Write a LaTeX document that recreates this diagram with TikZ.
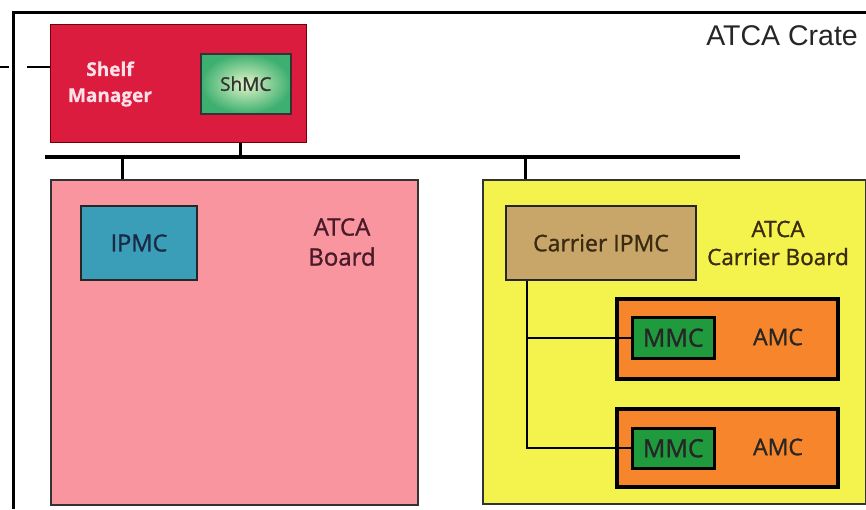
\documentclass[tikz,border=0pt]{standalone}
\usepackage{fontspec}
\setmainfont[FakeBold=1.2]{Open Sans}
\newfontfamily\smfont[FakeBold=0.6]{Open Sans Bold}
\newfontfamily\cratefont{Liberation Sans}
\definecolor{smred}{HTML}{DC1C3E}
\definecolor{smtext}{HTML}{FCE2E8}
\definecolor{shin}{HTML}{E2F5C8}
\definecolor{shout}{HTML}{3DAF70}
\definecolor{boardpink}{HTML}{F8959F}
\definecolor{boardtext}{HTML}{4A1A28}
\definecolor{ipmcteal}{HTML}{3B9EB8}
\definecolor{ipmctext}{HTML}{1B2A44}
\definecolor{caryellow}{HTML}{F4F24C}
\definecolor{cipmctan}{HTML}{C8A66A}
\definecolor{cartext}{HTML}{3A2A10}
\definecolor{amcorange}{HTML}{F7852B}
\definecolor{mmcgreen}{HTML}{1F9B3E}
\begin{document}
\begin{tikzpicture}[x=1pt,y=-1pt,
  box/.style={draw, rectangle, anchor=north west, inner sep=0pt},
  busline/.style={line width=4pt, black},
  stubline/.style={line width=3pt, black},
  wire/.style={line width=1.8pt, black}]
\useasboundingbox (0,0) rectangle (866,509);
\fill[white] (0,0) rectangle (866,509);
% crate
\draw[line width=3pt] (13,509) -- (13,12) -- (866,12);
\node[font=\cratefont\fontsize{28.5}{30}\selectfont, anchor=east, text=black!85, inner sep=0pt] (crate) at (858,36) {ATCA Crate};
% shelf manager
\node[box, draw=red!45!black, fill=smred, line width=1pt, minimum width=256pt, minimum height=118pt] (sm) at (50,24) {};
\node[font=\smfont\fontsize{19}{26}\selectfont, text=smtext, align=center, inner sep=0pt] (smlabel) at (110,84) {Shelf\\Manager};
\node[box, draw=black!80, line width=1.5pt, inner color=shin, outer color=shout, minimum width=90pt, minimum height=60pt, font=\fontsize{19}{22}\selectfont, text=black!80] (shmc) at (200,53) {ShMC};
% external line
\coordinate (extA) at (0,67);
\coordinate (extB) at (9,67);
\coordinate (extC) at (27,67);
\draw[wire] (extA) -- (extB);
\draw[wire] (extC) -- (extC -| sm.west);
% bus
\coordinate (busL) at (45,157);
\coordinate (busR) at (740,157);
\draw[busline] (busL) -- (busR);
\coordinate (stubA) at (240,157);
\coordinate (stubB) at (122,157);
\coordinate (stubC) at (525,157);
% ATCA board
\node[box, draw=black!80, line width=2pt, fill=boardpink, minimum width=367pt, minimum height=325pt] (board) at (50,179) {};
\node[box, draw=black!85, line width=2pt, fill=ipmcteal, minimum width=116pt, minimum height=74pt, font=\fontsize{23.5}{26}\selectfont, text=ipmctext] (ipmc) at (80,205) {IPMC};
\node[font=\fontsize{24}{30}\selectfont, text=boardtext, align=center, inner sep=0pt] (boardlabel) at (342,242) {ATCA\\Board};
% carrier board
\node[box, draw=black!80, line width=2pt, fill=caryellow, minimum width=383pt, minimum height=324pt] (carrier) at (482,179) {};
\node[box, draw=black!85, line width=2pt, fill=cipmctan, minimum width=190pt, minimum height=74pt, font=\fontsize{23}{26}\selectfont, text=cartext] (cipmc) at (505,205) {Carrier IPMC};
\node[font=\fontsize{22.5}{28}\selectfont, text=cartext, align=center, inner sep=0pt] (carlabel) at (778,243) {ATCA\\Carrier Board};
% AMCs
\node[box, draw=black, line width=3.5pt, fill=amcorange, minimum width=221pt, minimum height=80pt] (amc1) at (615,297) {};
\node[box, draw=black, line width=2.5pt, fill=mmcgreen, minimum width=82pt, minimum height=41pt, font=\fontsize{25}{27}\selectfont, text=black!85] (mmc1) at (631,316) {MMC};
\node[font=\fontsize{23}{26}\selectfont, text=black!85, inner sep=0pt] (amc1label) at (778,337) {AMC};
\node[box, draw=black, line width=3.5pt, fill=amcorange, minimum width=221pt, minimum height=78pt] (amc2) at (615,407) {};
\node[box, draw=black, line width=2.5pt, fill=mmcgreen, minimum width=82pt, minimum height=40pt, font=\fontsize{25}{27}\selectfont, text=black!85] (mmc2) at (631,427) {MMC};
\node[font=\fontsize{23}{26}\selectfont, text=black!85, inner sep=0pt] (amc2label) at (778,447) {AMC};
% stubs
\draw[stubline] (stubA |- sm.south) -- (stubA);
\draw[stubline] (stubB) -- (stubB |- board.north);
\draw[stubline] (stubC) -- (stubC |- carrier.north);
% carrier wiring
\coordinate (trunk) at (527,279);
\draw[wire] (trunk |- cipmc.south) -- (trunk |- mmc2.west) -- (mmc2.west);
\draw[wire] (trunk |- mmc1.west) -- (mmc1.west);
\end{tikzpicture}
\end{document}
